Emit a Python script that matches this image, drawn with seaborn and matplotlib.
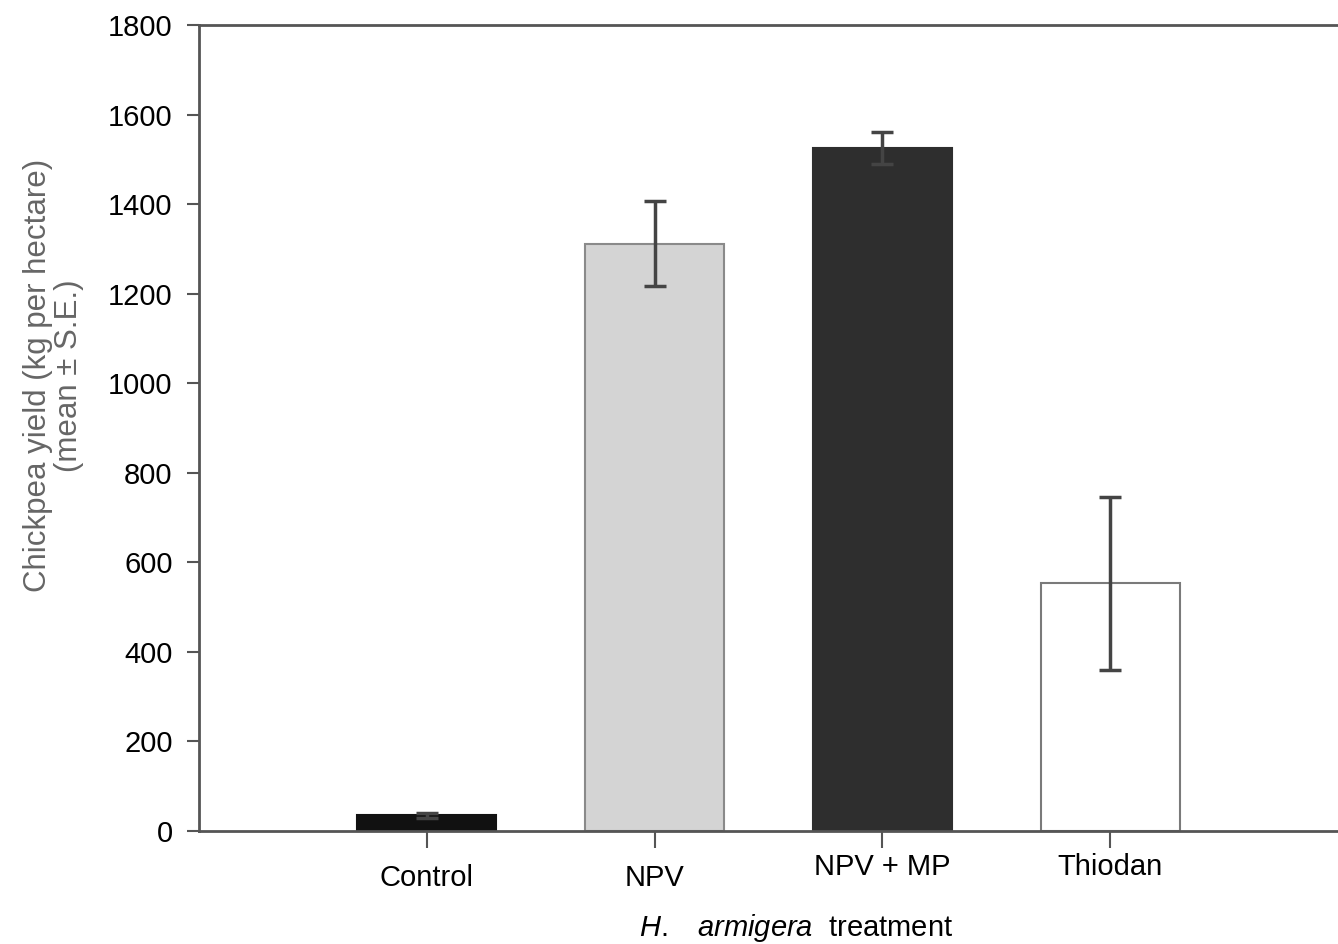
import matplotlib
matplotlib.use("Agg")
import matplotlib.pyplot as plt
import matplotlib.transforms as mtransforms
import seaborn as sns
import pandas as pd

# values
treatments = ["Control", "NPV", "NPV + MP", "Thiodan"]
yields = [35, 1312, 1526, 553]
se = [6, 95, 36, 194]

bar_colors = ["#111111", "#d4d4d4", "#2e2e2e", "#ffffff"]
edge_colors = ["#111111", "#8a8a8a", "#2e2e2e", "#7a7a7a"]

sns.set_style("white")
plt.rcParams["font.family"] = ["Liberation Sans", "DejaVu Sans"]
plt.rcParams["mathtext.fontset"] = "custom"
plt.rcParams["mathtext.it"] = "Liberation Sans:italic"
plt.rcParams["mathtext.rm"] = "Liberation Sans"

data = pd.DataFrame({"treatment": treatments, "yield": yields})

fig = plt.figure(figsize=(13.38, 9.44), dpi=100)
ax = fig.add_axes([0.1487, 0.1197, 0.8513, 0.8538])

sns.barplot(data=data, x="treatment", y="yield", hue="treatment",
            palette=bar_colors, legend=False, width=0.61, ax=ax,
            linewidth=1.5, saturation=1)
for patch, ec in zip(ax.patches, edge_colors):
    patch.set_edgecolor(ec)

ax.errorbar(range(len(treatments)), yields, yerr=se, fmt="none",
            ecolor="#444444", elinewidth=2.5, capsize=8, capthick=2.5, zorder=5)

ax.set_xlim(-1, 4)
ax.set_ylim(0, 1800)
ax.set_yticks(range(0, 1801, 200))

for side in ["left", "bottom", "top"]:
    ax.spines[side].set_color("#555555")
    ax.spines[side].set_linewidth(2)
ax.spines["right"].set_visible(False)

ax.tick_params(axis="y", direction="out", length=9, width=1.5, color="#555555",
               labelsize=21, pad=10, left=True, labelcolor="black")
ax.tick_params(axis="x", direction="out", length=12, width=1.5, color="#555555",
               labelsize=21, pad=12, bottom=True, labelcolor="black")

# the last two category labels sit a little higher in the original
for i, lab in enumerate(ax.get_xticklabels()):
    dy = 8 / 72 if i >= 2 else 0
    lab.set_transform(lab.get_transform() +
                      mtransforms.ScaledTranslation(0, dy, fig.dpi_scale_trans))

ax.set_ylabel("Chickpea yield (kg per hectare)\n(mean \u00b1 S.E.)",
              fontsize=22.5, color="#666666", linespacing=1.05)
ax.yaxis.set_label_coords(-0.101, 0.565)
ax.set_xlabel("$\\mathit{H.\\ \\ \\ armigera}$  treatment", fontsize=21,
              color="black", va="center")
ax.xaxis.set_label_coords(0.524, -0.120)

fig.savefig("out.png", dpi=100)
